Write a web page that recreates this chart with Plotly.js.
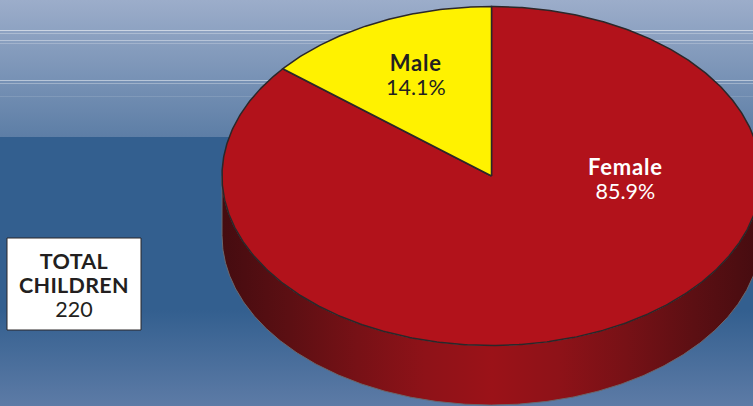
<!DOCTYPE html>
<html>
<head>
<meta charset="utf-8">
<script src="https://cdn.plot.ly/plotly-3.0.1.min.js"></script>
<style>
  html, body { margin: 0; padding: 0; background: #335f8f; }
  #chart {
    width: 753px; height: 406px; overflow: hidden;
    background: linear-gradient(to bottom,
      #9cadca 0px, #5d7ea6 137px,
      #335f8f 137px, #335f8f 310px, #5d7ba6 406px);
  }
</style>
</head>
<body>
<div id="chart"></div>
<script>
// Children by sex
const categories = ['Female', 'Male'];
const shares = [85.9, 14.1];
const sliceColors = ['#b2121b', '#fff200'];
const labelColors = ['#ffffff', '#231f20'];
const totalTitle = ['TOTAL', 'CHILDREN'];
const totalChildren = 220;

const W = 753, H = 406;
const centerX = 491.5, centerY = 176;   // disc centre, px
const radiusX = 269.5, radiusY = 169.5; // disc radii, px
const depth = 59.5 / radiusY;           // wall height in axis units

// One axis unit equals the disc radius along that axis, which flattens the circle to an ellipse.
const xRange = [-centerX / radiusX, (W - centerX) / radiusX];
const yRange = [-(H - centerY) / radiusY, centerY / radiusY];
const px = v => v / W;
const py = v => 1 - v / H;

function arc(startFrac, endFrac, dy) {
  const xs = [], ys = [];
  const steps = Math.max(4, Math.round(Math.abs(endFrac - startFrac) * 720));
  for (let i = 0; i <= steps; i++) {
    const t = 2 * Math.PI * (startFrac + (endFrac - startFrac) * i / steps);
    xs.push(Math.sin(t));
    ys.push(Math.cos(t) + dy);
  }
  return [xs, ys];
}

// Front wall of the disc: lower half of the rim, dropped by the depth
const [topX, topY] = arc(0.25, 0.75, 0);
const [lowX, lowY] = arc(0.75, 0.25, -depth);
const wall = {
  x: topX.concat(lowX, [topX[0]]),
  y: topY.concat(lowY, [topY[0]]),
  mode: 'lines', fill: 'toself', hoverinfo: 'skip',
  line: { color: '#6b666b', width: 1 },
  fillcolor: '#8a1016',
  fillgradient: {
    type: 'horizontal',
    colorscale: [[0, '#450c10'], [0.125, '#5c0f13'], [0.25, '#771116'], [0.375, '#8e1218'],
                 [0.5, '#9b1218'], [0.625, '#8e1218'], [0.75, '#771116'], [0.875, '#5c0f13'], [1, '#450c10']]
  }
};

// Top face: one sector per category, clockwise from twelve o'clock
const total = shares.reduce((a, b) => a + b, 0);
let running = 0;
const sectors = categories.map((name, i) => {
  const start = running / total;
  running += shares[i];
  const [x, y] = arc(start, running / total, 0);
  return {
    name, x: [0].concat(x, [0]), y: [0].concat(y, [0]),
    mode: 'lines', fill: 'toself', fillcolor: sliceColors[i],
    line: { color: '#2b2729', width: 1.5 }, hoverinfo: 'name'
  };
});

// Centred text block: the base size sets the tight line spacing, the spans set the glyph size
const fontFamily = 'Lato, "Open Sans", sans-serif';
const plain = s => '<span style="font-size:21.5px">' + s + '</span>';
const heading = s => '<span style="font-size:22px;letter-spacing:0.8px"><b>' + s + '</b></span>';
const caps = s => '<span style="font-size:21.5px;letter-spacing:0.3px"><b>' + s + '</b></span>';
function textBlock(lines, xPos, yPos, color) {
  return {
    x: px(xPos), y: py(yPos), xref: 'paper', yref: 'paper',
    text: lines.join('<br>'),
    showarrow: false, align: 'center', xanchor: 'center', yanchor: 'middle',
    font: { family: fontFamily, size: 18.6, color }
  };
}

const labelCenters = [[625, 178], [416, 74]];
const sliceLabels = categories.map((name, i) => textBlock(
  [heading(name), plain(shares[i].toFixed(1) + '%')],
  labelCenters[i][0], labelCenters[i][1], labelColors[i]
));

const totalLabel = textBlock(
  totalTitle.map(caps).concat(plain(String(totalChildren))),
  74, 285, '#231f20'
);

// Thin highlight rules running behind the disc
const ruleRows = [[30.5, 0.55], [33.5, 0.28], [40.5, 0.38], [43.5, 0.22], [80.5, 0.48], [83.5, 0.3], [96.5, 0.12]];
const rules = ruleRows.map(([row, alpha]) => ({
  type: 'line', layer: 'below', xref: 'paper', yref: 'paper',
  x0: 0, x1: 1, y0: py(row), y1: py(row),
  line: { color: 'rgba(255,255,255,' + alpha + ')', width: 1 }
}));

const totalBox = {
  type: 'rect', xref: 'paper', yref: 'paper',
  x0: px(7), x1: px(141), y0: py(238), y1: py(330),
  fillcolor: '#ffffff', line: { color: '#2b2729', width: 1 }
};

Plotly.newPlot('chart', [wall].concat(sectors), {
  width: W, height: H,
  margin: { l: 0, r: 0, t: 0, b: 0 },
  paper_bgcolor: 'rgba(0,0,0,0)', plot_bgcolor: 'rgba(0,0,0,0)',
  showlegend: false,
  xaxis: { range: xRange, visible: false, fixedrange: true },
  yaxis: { range: yRange, visible: false, fixedrange: true },
  shapes: rules.concat([totalBox]),
  annotations: sliceLabels.concat([totalLabel])
}, { displayModeBar: false, staticPlot: true });
</script>
</body>
</html>
